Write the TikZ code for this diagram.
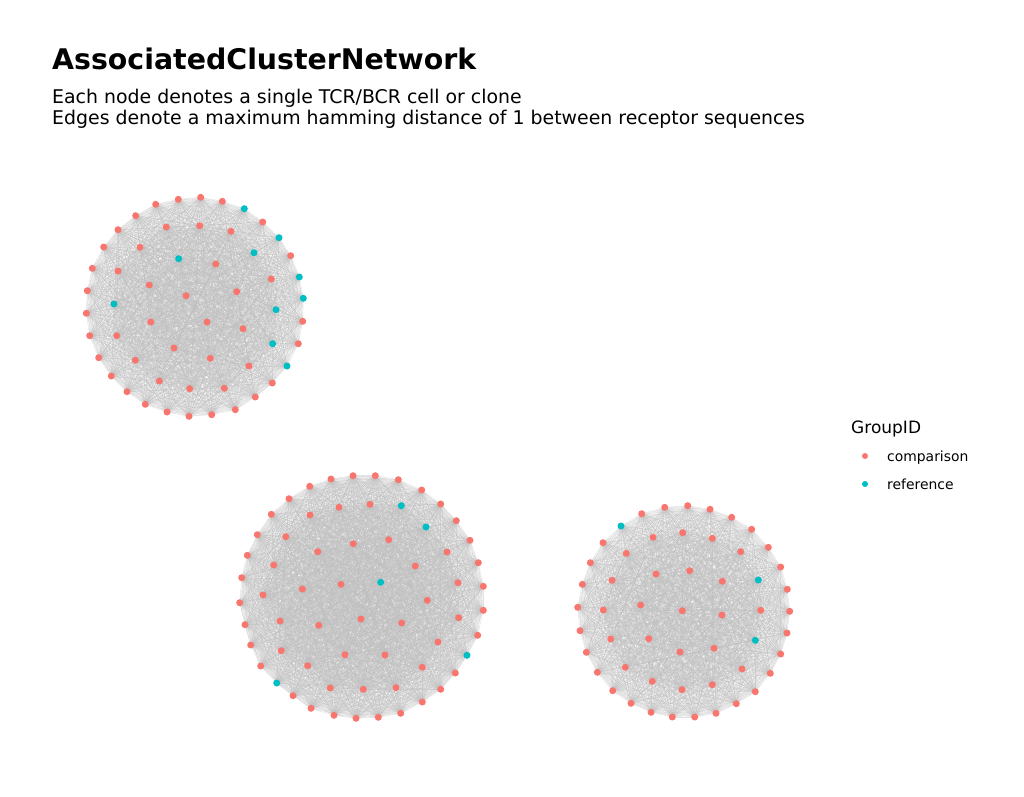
\documentclass[tikz,border=0pt]{standalone}
\usepackage{fontspec}
\setmainfont{DejaVu Sans}
\definecolor{cmpcol}{HTML}{F8766D}
\definecolor{refcol}{HTML}{00BFC4}
\definecolor{edgecol}{HTML}{BEBEBE}
\pgfdeclarelayer{bg}
\pgfsetlayers{bg,main}
\tikzset{
  dotc/.style={circle,fill=cmpcol,draw=none,inner sep=0pt,minimum size=7pt},
  dotr/.style={circle,fill=refcol,draw=none,inner sep=0pt,minimum size=7pt},
  legdot/.style={circle,draw=none,inner sep=0pt,minimum size=6pt},
  edge/.style={draw=edgecol,line width=0.45pt},
  titletext/.style={anchor=base west,inner sep=0pt,font=\bfseries\fontsize{28.4}{32}\selectfont},
  subtext/.style={anchor=base west,inner sep=0pt,font=\fontsize{18.9}{22}\selectfont},
  legtitle/.style={anchor=base west,inner sep=0pt,font=\fontsize{17}{20}\selectfont},
  leglabel/.style={anchor=base west,inner sep=0pt,font=\fontsize{13.9}{16}\selectfont}
}
\newcommand\completegraph[2]{%
  \pgfmathtruncatemacro\cgm{#2-1}%
  \foreach \i in {1,...,\cgm}{%
    \pgfmathtruncatemacro\cgs{\i+1}%
    \foreach \j in {\cgs,...,#2}{\draw[edge] (#1\i.center) -- (#1\j.center);}}}
\begin{document}
\begin{tikzpicture}[x=1pt,y=-1pt]
\path[use as bounding box] (0,0) rectangle (1024,796);
\node[titletext] (title) at (52,69) {AssociatedClusterNetwork};
\node[subtext] (sub1) at (52,103) {Each node denotes a single TCR/BCR cell or clone};
\node[subtext] (sub2) at (52,124) {Edges denote a maximum hamming distance of 1 between receptor sequences};
% cluster A
\foreach [count=\k] \x/\y/\c in {200.7/197.3/c, 222.3/201.3/c, 244.3/208.7/r, 262.7/222/c, 279/237.7/r, 290.7/255.7/c, 299.3/277/r, 303.3/298.3/r, 302.7/321.3/c, 298.3/343.7/c, 287/366/r, 272.3/383/c, 255.3/397/c, 235.3/409.7/c, 211.7/414.7/c, 189/416.3/c, 167/412/c, 145.3/404.3/c, 127/391.7/c, 111.3/376/c, 98.7/357.7/c, 89.7/335.7/c, 86.3/313.3/c, 87.3/290.7/c, 92.3/268.3/c, 103.7/247/c, 118/229.7/c, 135.7/215.7/c, 155.7/204.3/c, 178.3/199.3/c,
199.7/225.7/c, 231/231.3/c, 254/252.7/r, 271.3/279/c, 276/309.7/r, 272.7/343.7/r, 249/366/c, 224.3/388.3/c, 189.7/388.7/c, 159.3/381/c, 135.3/360.3/c, 116.7/335.7/c, 114/304/r, 118/271/c, 140/247.3/c, 166.3/227/c,
178.7/258.7/r, 215.7/264/c, 236.7/291.7/c, 243/328.7/c, 210.3/358.3/c, 174/348/c, 150.7/322/c, 149.3/285/c, 186/295.7/c, 207/322/c}
  {\node[dot\c] (a\k) at (\x,\y) {};}
% cluster B
\foreach [count=\k] \x/\y/\c in {353/475.7/c, 375.3/475.7/c, 398.3/479.7/c, 421.7/490/c, 440.7/504/c, 456.3/520.7/c, 470/540.3/c, 478.3/562.7/c, 483.3/586.3/c, 483.3/610.3/c, 477.7/635.3/c, 467/655.3/r, 455.3/673/c, 440.7/689.3/c, 422.3/702/c, 400.7/713.3/c, 378.3/717.3/c, 356/718.3/c, 334/715.3/c, 311/708.3/c, 293/695.7/c, 276.7/683/r, 260.7/666/c, 250.7/645/c, 245/624.7/c, 239.7/602.7/c, 241.7/577.7/c, 247.3/555.3/c, 257.3/534.7/c, 271.3/514.3/c, 289/498.7/c, 309.7/486.3/c, 331/479/c,
370/504.3/c, 401.3/505.7/r, 426/527/r, 447/552/c, 458/582.7/c, 458.7/617.7/c, 438/642/c, 422.3/667.3/c, 396/687.7/c, 363.3/689.3/c, 330.3/688/c, 307.7/665.7/c, 281.3/650.7/c, 280/621/c, 263/595/c, 273.7/565/c, 285.7/536.7/c, 310/515/c, 339/507.3/c,
388.7/539.7/c, 415.3/566/c, 427.3/600.3/c, 401.7/623/c, 385/655/c, 345/654.7/c, 318.7/625.3/c, 302.3/589/c, 317.7/551.7/c, 353.3/543.7/c,
380.7/582.3/r, 341/584.3/c, 361/619/c}
  {\node[dot\c] (b\k) at (\x,\y) {};}
% cluster C
\foreach [count=\k] \x/\y/\c in {687.7/505.7/c, 710/509.3/c, 731.7/517.3/c, 751.7/529.3/c, 768.3/547.3/c, 780.7/567/c, 787.3/589.3/c, 789.7/611.3/c, 787/633/c, 780.7/654/c, 770.3/673.3/c, 755.3/691.7/c, 736.3/703.7/c, 716/713.3/c, 694.7/717/c, 672.3/717/c, 651/712.3/c, 631/703.3/c, 612.7/690.7/c, 597.3/672.3/c, 586.3/652.3/c, 580/630.7/c, 577.7/607.3/c, 582.3/584.3/c, 590.3/562.7/c, 603/542.7/c, 621/526/r, 641.7/513.7/c, 664.7/507.3/c,
682.7/532.7/c, 712.3/538.3/c, 740.7/551.7/c, 758.3/580/r, 760.7/610.3/c, 755.3/640.3/r, 742/669/c, 712.3/684.7/c, 682/689.7/c, 652.3/681.3/c, 625.3/667.3/c, 610.7/639/c, 603.3/610/c, 612/580.3/c, 626.3/553.3/c, 653/537.3/c,
689.7/570.7/c, 722.3/581.3/c, 722/615/c, 714/648.3/c, 680/652/c, 648.7/638.7/c, 640.7/605/c, 656/574/c, 682.3/610.7/c}
  {\node[dot\c] (c\k) at (\x,\y) {};}
\begin{pgfonlayer}{bg}
\begin{scope}[draw opacity=0.45]
\completegraph{a}{56}
\completegraph{b}{65}
\completegraph{c}{54}
\end{scope}
\end{pgfonlayer}
% legend
\node[legtitle] (legt) at (851,433) {GroupID};
\node[legdot,fill=cmpcol] (l1) at (865,456) {};
\node[legdot,fill=refcol] (l2) at (865,484) {};
\node[leglabel] (l1t) at (887,461) {comparison};
\node[leglabel] (l2t) at (887,489) {reference};
\end{tikzpicture}
\end{document}
